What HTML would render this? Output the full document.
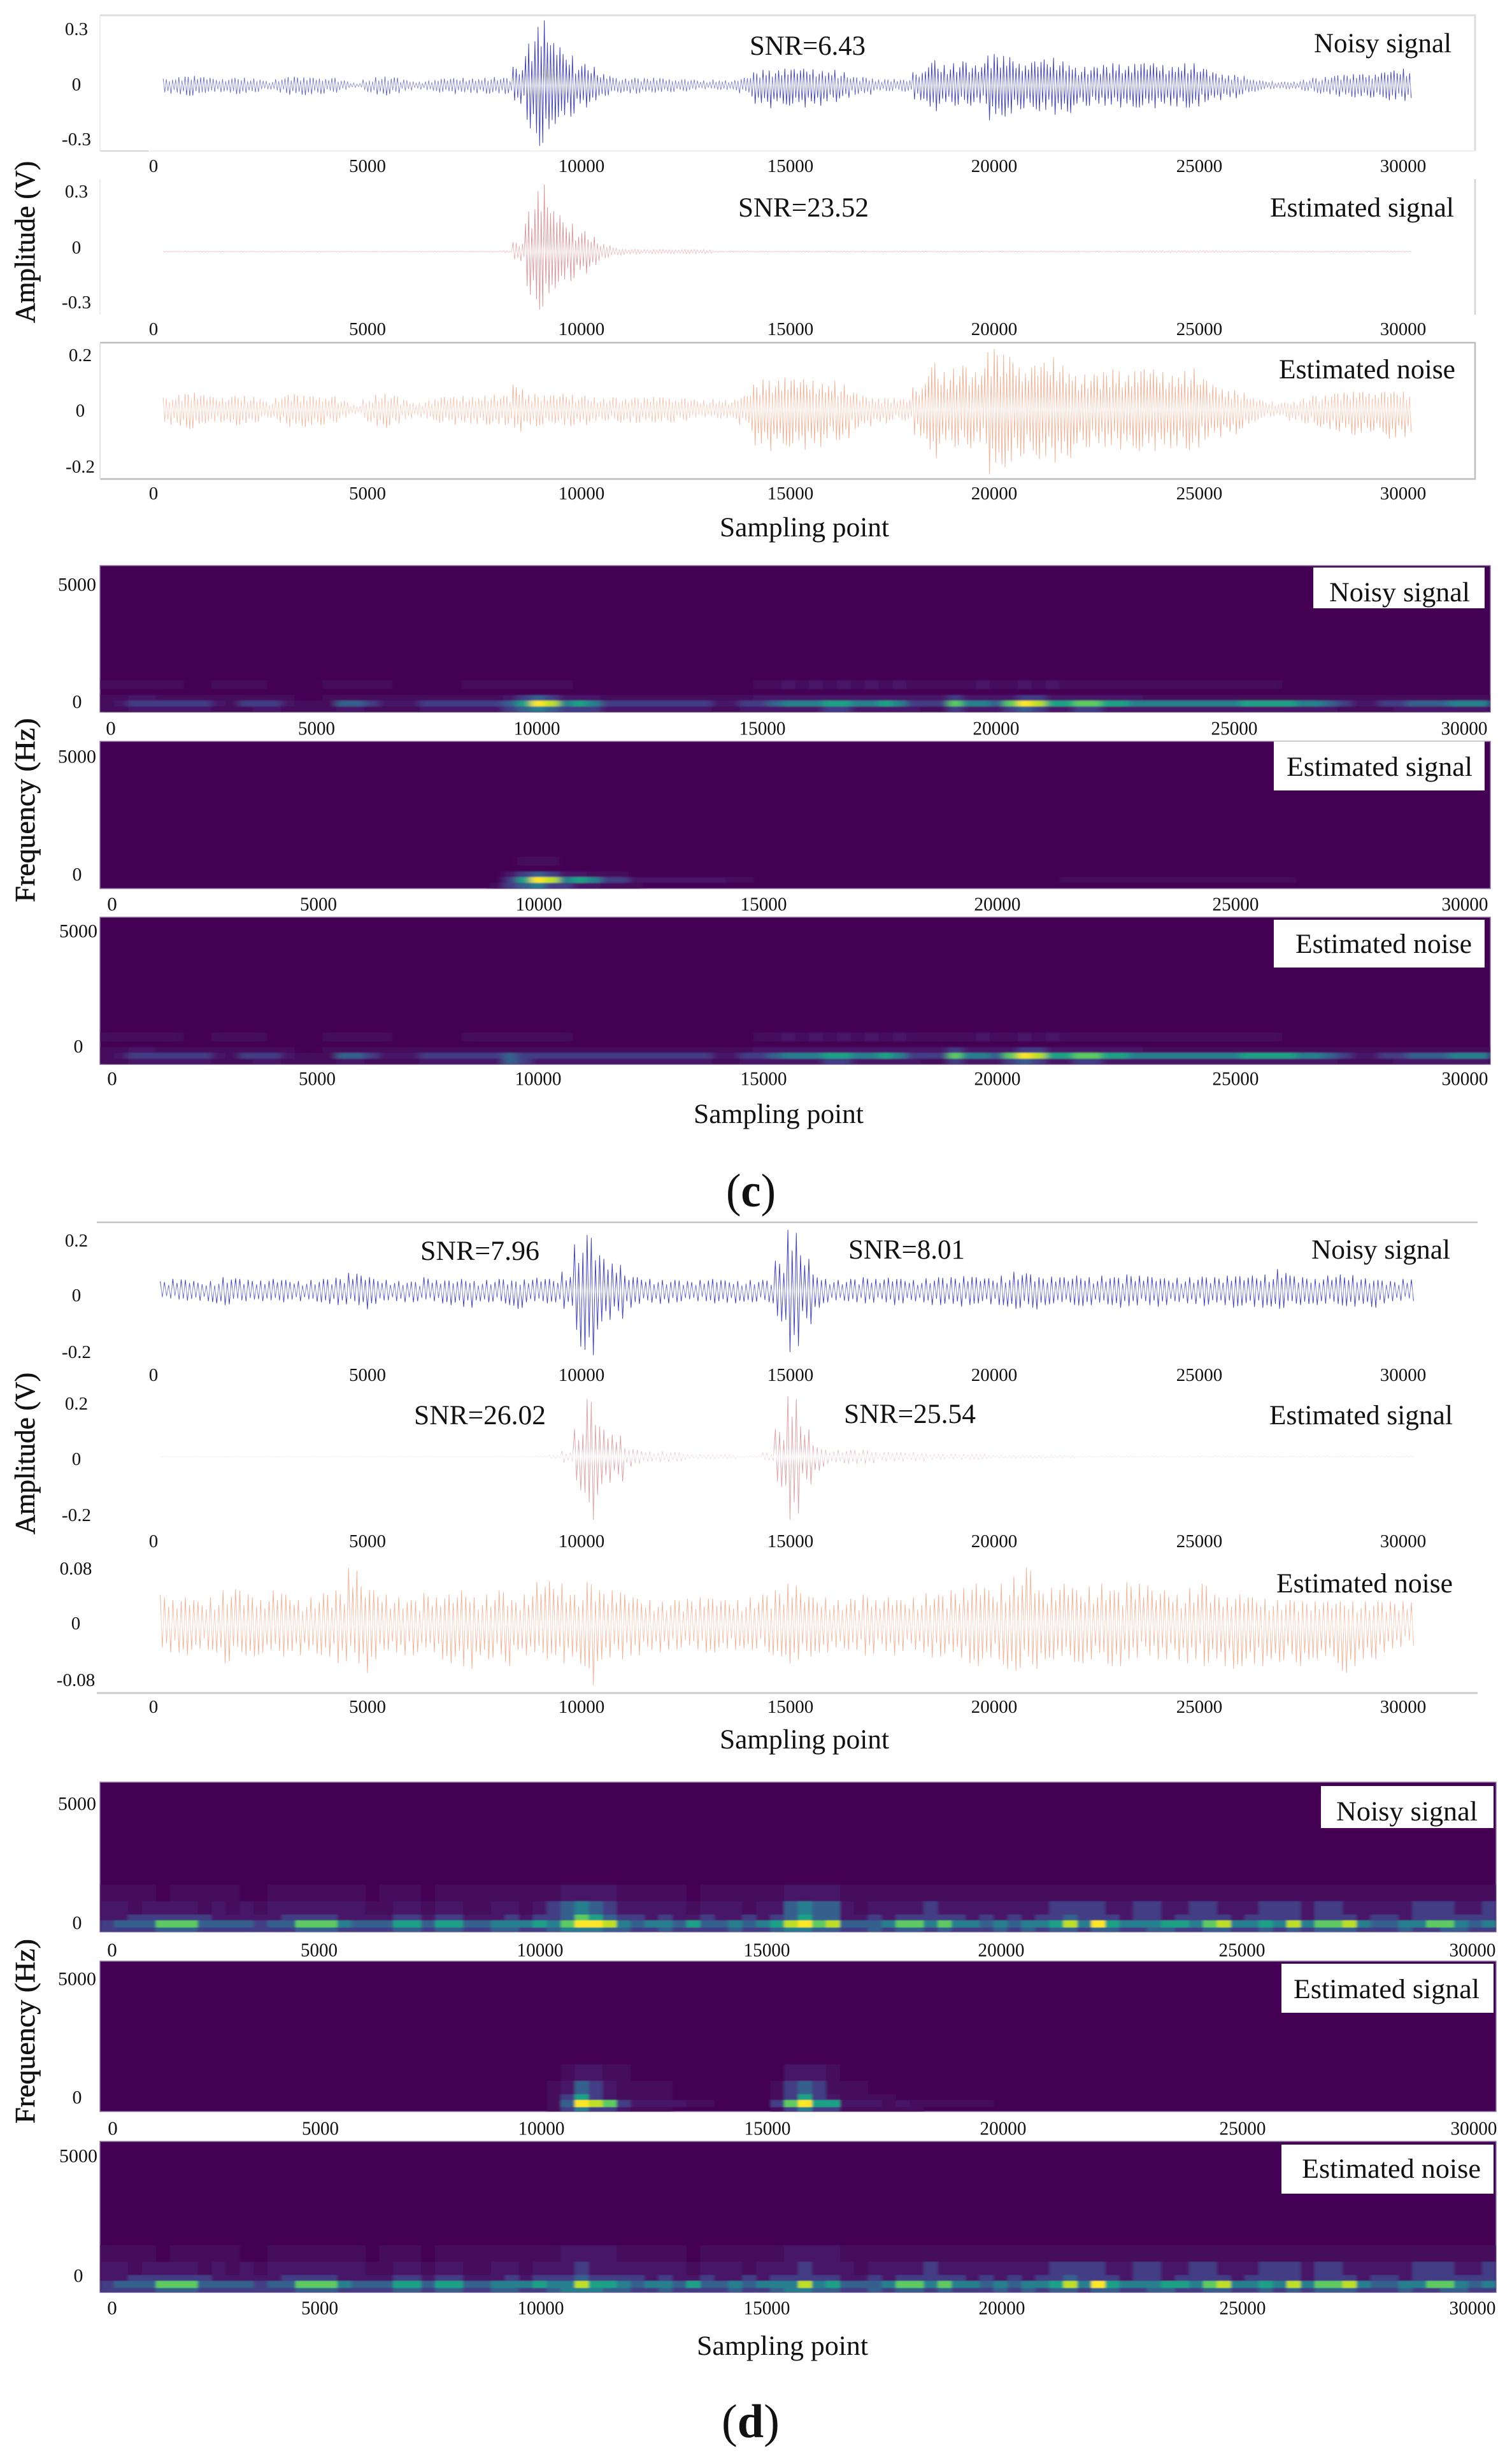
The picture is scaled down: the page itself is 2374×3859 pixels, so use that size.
<!DOCTYPE html>
<html lang="en">
<head>
<meta charset="utf-8">
<title>Noisy and denoised seismic signals with spectrograms</title>
<style>
html,body{margin:0;padding:0;background:#fff;}
svg{display:block;}
text{font-family:"Liberation Serif",serif;fill:#111;}
</style>
</head>
<body>
<svg id="chart" xmlns="http://www.w3.org/2000/svg" width="2374" height="3859" viewBox="0 0 2374 3859">
<defs id="defs">
<filter id="blurC" x="-2%" y="-5%" width="104%" height="110%"><feGaussianBlur stdDeviation="6 1"/></filter>
<filter id="blurD" x="-2%" y="-5%" width="104%" height="110%"><feGaussianBlur stdDeviation="2 0.8"/></filter>
</defs>
<rect width="2374" height="3859" fill="#fff"/>
<g id="layer"></g>

<g>
<text transform="translate(54,380) rotate(-90)" text-anchor="middle" font-size="44" textLength="254" lengthAdjust="spacingAndGlyphs" stroke="#111" stroke-width="0.6">Amplitude (V)</text>
<text transform="translate(54,1272) rotate(-90)" text-anchor="middle" font-size="44" textLength="289" lengthAdjust="spacingAndGlyphs" stroke="#111" stroke-width="0.6">Frequency (Hz)</text>
<text transform="translate(54,2282) rotate(-90)" text-anchor="middle" font-size="44" textLength="254" lengthAdjust="spacingAndGlyphs" stroke="#111" stroke-width="0.6">Amplitude (V)</text>
<text transform="translate(54,3189) rotate(-90)" text-anchor="middle" font-size="44" textLength="290" lengthAdjust="spacingAndGlyphs" stroke="#111" stroke-width="0.6">Frequency (Hz)</text>

<text x="1130" y="842" font-size="43" textLength="266" lengthAdjust="spacingAndGlyphs">Sampling point</text>
<text x="1089" y="1763" font-size="43" textLength="267" lengthAdjust="spacingAndGlyphs">Sampling point</text>
<text x="1130" y="2745" font-size="43" textLength="266" lengthAdjust="spacingAndGlyphs">Sampling point</text>
<text x="1094" y="3697" font-size="43" textLength="269" lengthAdjust="spacingAndGlyphs">Sampling point</text>

<text x="1140" y="1894" font-size="74" textLength="78" lengthAdjust="spacingAndGlyphs">(<tspan font-weight="bold">c</tspan>)</text>
<text x="1133" y="3826" font-size="74" textLength="91" lengthAdjust="spacingAndGlyphs">(<tspan font-weight="bold">d</tspan>)</text>

<text x="1177" y="86" font-size="43" textLength="182" lengthAdjust="spacingAndGlyphs">SNR=6.43</text>
<text x="1159" y="340" font-size="43" textLength="205" lengthAdjust="spacingAndGlyphs">SNR=23.52</text>
<text x="2063" y="82" font-size="43" textLength="216" lengthAdjust="spacingAndGlyphs">Noisy signal</text>
<text x="1994" y="340" font-size="43" textLength="289" lengthAdjust="spacingAndGlyphs">Estimated signal</text>
<text x="2008" y="594" font-size="43" textLength="277" lengthAdjust="spacingAndGlyphs">Estimated noise</text>

<text x="660" y="1978" font-size="43" textLength="187" lengthAdjust="spacingAndGlyphs">SNR=7.96</text>
<text x="1332" y="1976" font-size="43" textLength="183" lengthAdjust="spacingAndGlyphs">SNR=8.01</text>
<text x="650" y="2236" font-size="43" textLength="207" lengthAdjust="spacingAndGlyphs">SNR=26.02</text>
<text x="1325" y="2234" font-size="43" textLength="207" lengthAdjust="spacingAndGlyphs">SNR=25.54</text>
<text x="2059" y="1976" font-size="43" textLength="218" lengthAdjust="spacingAndGlyphs">Noisy signal</text>
<text x="1993" y="2236" font-size="43" textLength="288" lengthAdjust="spacingAndGlyphs">Estimated signal</text>
<text x="2004" y="2500" font-size="43" textLength="277" lengthAdjust="spacingAndGlyphs">Estimated noise</text>
</g>

<g>
<rect x="2062" y="891" width="269" height="64" fill="#fff"/>
<text x="2087" y="944" font-size="43" textLength="221" lengthAdjust="spacingAndGlyphs">Noisy signal</text>
<rect x="2000" y="1164" width="331" height="77" fill="#fff"/>
<text x="2020" y="1218" font-size="43" textLength="292" lengthAdjust="spacingAndGlyphs">Estimated signal</text>
<rect x="2000" y="1444" width="331" height="75" fill="#fff"/>
<text x="2034" y="1496" font-size="43" textLength="277" lengthAdjust="spacingAndGlyphs">Estimated noise</text>
<rect x="2074" y="2804" width="271" height="66" fill="#fff"/>
<text x="2098" y="2858" font-size="43" textLength="222" lengthAdjust="spacingAndGlyphs">Noisy signal</text>
<rect x="2012" y="3083" width="333" height="77" fill="#fff"/>
<text x="2031" y="3137" font-size="43" textLength="292" lengthAdjust="spacingAndGlyphs">Estimated signal</text>
<rect x="2012" y="3367" width="333" height="77" fill="#fff"/>
<text x="2044" y="3419" font-size="43" textLength="281" lengthAdjust="spacingAndGlyphs">Estimated noise</text>
</g>

<g fill="none">
<path d="M157 24H2316V237" stroke="#dcdcdc" stroke-width="3"/>
<path d="M157 24V237" stroke="#eeeeee" stroke-width="2"/>
<path d="M157 237H2316" stroke="#f0f0f0" stroke-width="2"/>
<path d="M157 237H233" stroke="#d4d4d4" stroke-width="2"/>
<path d="M2316 281V494" stroke="#d4d4d4" stroke-width="2.5"/>
<path d="M157 281V494" stroke="#eeeeee" stroke-width="2"/>
<path d="M157 538H2316V752H157" stroke="#bdbdbd" stroke-width="2.5"/>
<path d="M157 538V752" stroke="#e2e2e2" stroke-width="2"/>
<path d="M152 1919H2320" stroke="#c4c4c4" stroke-width="2.5"/>
<path d="M152 2658H2320" stroke="#cccccc" stroke-width="3"/>
</g>

<script>
/* ---------- waveform data: envelope peaks per 300-sample bin, in millivolts ---------- */
const xTickLabels = ['0','5000','10000','15000','20000','25000','30000'];
const cAmpTicks = ['0.3','0','-0.3'];
const cNoiseTicks = ['0.2','0','-0.2'];
const dAmpTicks = ['0.2','0','-0.2'];
const dNoiseTicks = ['0.08','0','-0.08'];
const freqTicks = ['5000','0'];

const cNoisyUp = [36,46,50,44,34,40,40,36,24,36,46,42,40,40,26,14,30,46,42,30,20,28,36,38,40,40,44,40,100,240,354,230,170,116,100,60,40,40,38,40,36,32,30,26,30,28,40,70,84,90,88,90,86,84,70,44,44,32,34,30,70,136,110,120,130,120,170,160,130,130,140,150,130,100,100,110,120,116,120,120,110,120,120,90,70,56,50,30,24,20,20,30,40,50,56,60,60,70,80,90];
const cNoisyLow = [44,52,56,40,36,46,44,36,22,40,50,52,46,38,24,12,36,54,46,28,22,30,38,46,40,44,44,46,100,260,330,210,170,120,90,56,40,44,40,38,36,32,24,20,24,26,42,100,124,104,110,120,110,90,70,50,50,30,30,34,80,140,100,110,110,100,190,170,130,130,140,160,150,110,110,110,120,120,120,124,110,120,120,90,80,70,50,34,20,20,20,30,44,50,60,64,66,70,80,84];
const cSignalUp = [2,2,2,2,2,2,2,2,2,2,2,2,2,2,2,2,2,2,2,2,2,2,2,2,2,2,2,6,50,230,366,220,160,110,80,40,20,14,12,12,12,12,12,12,4,4,4,3,3,3,3,3,3,3,3,3,3,3,3,3,3,3,3,3,3,3,3,3,3,3,3,3,3,3,3,3,3,4,5,6,6,6,6,6,6,4,3,3,3,3,3,3,3,3,3,3,3,3,3,3];
const cSignalLow = [2,2,2,2,2,2,2,2,2,2,2,2,2,2,2,2,2,2,2,2,2,2,2,2,2,2,2,6,50,260,316,200,160,120,80,34,20,14,12,12,12,12,12,12,4,4,4,3,3,3,3,3,3,3,3,3,3,3,3,3,3,3,3,3,3,3,3,3,3,3,3,3,3,3,3,3,3,4,5,6,6,6,6,6,6,4,3,3,3,3,3,3,3,3,3,3,3,3,3,3];
const cNoiseUp = [44,56,60,52,44,50,50,46,30,46,56,50,48,48,32,18,38,56,50,36,24,36,46,46,50,50,54,50,90,56,50,52,56,50,44,40,44,44,42,46,44,40,36,34,38,36,50,90,110,116,110,110,104,104,90,60,50,40,42,38,80,170,136,150,160,150,220,200,170,160,170,190,160,128,128,136,146,140,146,146,136,140,150,110,90,70,60,40,30,26,28,40,50,56,60,64,64,64,64,64];
const cNoiseLow = [54,64,70,50,46,56,54,46,30,50,62,62,56,46,30,16,44,66,56,34,28,38,48,56,50,54,54,56,80,60,56,50,60,56,44,40,46,48,46,46,46,40,30,28,32,34,54,130,150,130,136,146,136,110,110,70,60,50,38,40,96,176,124,136,140,124,236,210,170,164,180,192,176,136,136,136,146,140,150,150,140,140,146,110,100,90,70,44,26,26,40,50,64,74,80,92,80,90,106,100];

const dNoisyUp = [36,44,40,30,36,50,46,40,38,44,40,36,40,44,48,66,56,44,40,36,34,50,40,38,44,36,40,44,38,42,48,44,70,170,204,130,100,56,50,44,40,40,36,40,44,38,36,40,40,110,223,130,60,44,40,44,50,44,48,44,40,46,50,50,54,50,46,56,70,64,50,52,50,56,50,56,50,60,56,50,46,48,50,52,50,56,54,56,60,80,56,50,44,56,60,58,46,40,36,44];
const dNoisyLow = [26,30,34,36,44,50,36,30,36,40,30,36,40,46,50,50,66,46,36,40,40,36,44,50,60,36,40,50,64,40,44,40,64,213,233,110,100,60,46,46,44,40,36,36,44,44,38,40,44,110,222,120,60,40,36,40,44,40,50,44,40,50,50,56,50,44,50,56,64,66,50,44,50,54,50,50,60,54,50,56,50,44,46,54,50,60,52,60,56,64,50,46,50,46,54,56,60,44,36,36];
const dSignalUp = [1,1,1,1,1,1,1,1,1,1,1,1,1,1,1,1,1,1,1,1,1,1,1,1,1,1,1,1,1,1,2,6,20,100,210,110,80,30,24,18,18,16,8,8,8,8,3,3,14,100,220,110,40,24,24,24,24,16,16,16,16,10,10,10,10,10,5,5,5,5,5,5,5,2,2,2,2,2,2,2,2,2,2,2,2,2,2,2,2,2,2,2,2,2,2,2,2,2,2,2];
const dSignalLow = [1,1,1,1,1,1,1,1,1,1,1,1,1,1,1,1,1,1,1,1,1,1,1,1,1,1,1,1,1,1,2,6,20,130,230,100,90,35,24,18,18,16,8,8,8,8,3,3,14,110,230,100,50,24,24,24,24,16,16,16,16,10,10,10,10,10,5,5,5,5,5,5,5,2,2,2,2,2,2,2,2,2,2,2,2,2,2,2,2,2,2,2,2,2,2,2,2,2,2,2];
const dNoiseUp = [44,36,40,34,40,50,52,44,36,50,44,36,40,46,50,83,56,50,44,40,36,46,40,44,50,40,44,50,36,44,62,64,60,44,62,50,50,44,38,36,34,36,38,40,38,36,36,40,44,50,60,46,40,40,36,38,44,36,40,36,40,46,44,50,54,60,50,60,70,83,50,54,60,50,56,60,50,62,60,50,50,44,54,60,44,40,44,40,38,36,36,34,34,34,34,34,34,34,34,34];
const dNoiseLow = [40,40,44,36,40,56,44,46,40,46,38,44,44,46,56,56,70,50,40,44,44,40,50,56,64,44,50,60,36,44,50,44,56,60,88,50,50,44,44,40,36,36,36,40,40,36,34,36,44,46,56,46,40,40,36,36,44,38,44,38,40,48,46,48,56,60,50,64,66,64,50,50,54,56,50,60,60,50,44,50,50,56,50,60,60,64,60,60,50,54,60,50,50,56,70,60,50,40,34,30];

/* ---------- spectrogram data: colour-level rows (0 to 9), bottom row first ---------- */
const cNoisyUnder = [1,1,2,2,2,2,2,2,1,1,1,2,2,1,1,1,1,2,2,1,1,1,1,2,2,2,2,2,2,3,4,5,4,3,3,3,2,2,2,2,2,2,2,2,1,1,2,2,2,2,2,2,3,3,2,2,2,2,2,1,1,3,2,2,2,3,4,3,2,2,3,3,2,2,2,2,2,2,2,2,2,2,2,2,2,2,2,2,2,1,1,1,1,2,2,2,2,2,2,2];
const cNoisyBand = [1,2,3,3,3,3,3,3,2,1,3,3,3,2,1,1,1,4,4,3,2,2,2,3,3,3,3,3,3,4,6,9,8,5,6,5,3,3,3,3,3,3,3,3,2,2,3,3,4,5,5,5,6,6,5,5,6,5,3,3,3,7,5,5,4,7,9,8,6,6,7,7,6,6,5,5,5,5,5,5,5,5,6,6,6,6,5,5,4,3,2,2,3,3,4,4,4,5,5,5];
const cNoisyOver = [1,1,2,2,1,1,1,1,1,1,1,1,1,1,0,0,1,1,1,1,1,1,1,1,1,1,1,1,1,2,3,4,3,2,2,2,1,1,1,1,1,1,1,1,1,1,1,2,2,2,2,2,2,2,2,2,2,2,2,2,2,3,2,2,2,2,3,3,2,2,2,2,2,2,2,1,1,1,1,1,1,1,1,1,1,1,1,1,1,1,1,1,1,1,1,1,1,1,1,1];
const cNoisyHaze = [1,1,1,1,1,1,0,0,1,1,1,1,0,0,0,0,1,1,1,1,1,0,0,0,0,0,1,1,1,1,1,1,1,1,0,0,0,0,0,0,0,0,0,0,0,0,0,1,1,2,1,2,1,2,1,2,1,2,1,1,1,1,1,2,1,1,2,1,2,1,1,1,1,1,1,1,1,1,1,1,1,1,1,1,1,0,0,0,0,0,0,0,0,0,0,0,0,0,0,0];

const cSignalUnder = [0,0,0,0,0,0,0,0,0,0,0,0,0,0,0,0,0,0,0,0,0,0,0,0,0,0,0,0,1,3,4,5,3,3,2,2,1,1,1];
const cSignalBand = [0,0,0,0,0,0,0,0,0,0,0,0,0,0,0,0,0,0,0,0,0,0,0,0,0,0,0,0,0,3,6,9,8,5,6,5,3,3,2,2,2,2,2,2,2,1,1,0,0,0,0,0,0,0,0,0,0,0,0,0,0,0,0,0,0,0,0,0,0,1,1,1,1,1,1,1,1,1,1,1,1,1,1,1,1,1];
const cSignalOver = [0,0,0,0,0,0,0,0,0,0,0,0,0,0,0,0,0,0,0,0,0,0,0,0,0,0,0,0,0,2,3,4,3,2,2,1,1,1];
const cSignalHaze = [0,0,0,0,0,0,0,0,0,0,0,0,0,0,0,0,0,0,0,0,0,0,0,0,0,0,0,0,0,0,1,1,1];

const cNoiseUnder = [1,1,2,2,2,2,2,2,1,1,1,2,2,1,1,1,1,2,2,1,1,1,1,2,2,2,2,2,2,4,3,2,2,2,2,2,2,2,2,2,2,2,2,2,1,1,2,2,2,2,2,2,3,3,2,2,2,2,2,1,1,3,2,2,2,3,4,3,2,2,3,3,2,2,2,2,2,2,2,2,2,2,2,2,2,2,2,2,2,1,1,1,1,2,2,2,2,2,2,2];
const cNoiseBand = [1,2,3,3,3,3,3,3,2,1,3,3,3,2,1,1,1,4,4,3,2,2,2,3,3,3,3,3,3,4,3,3,3,3,3,3,3,3,3,3,3,3,3,3,2,2,3,3,4,5,5,5,6,6,5,5,6,5,3,3,3,7,5,5,4,7,9,8,6,6,7,7,6,6,5,5,5,5,5,5,5,5,6,6,6,6,5,5,4,3,2,2,3,3,4,4,4,5,5,5];
const cNoiseOver = [1,1,2,2,1,1,1,1,1,1,1,1,1,1,0,0,1,1,1,1,1,1,1,1,1,1,1,1,1,1,1,1,1,1,1,1,1,1,1,1,1,1,1,1,1,1,1,2,2,2,2,2,2,2,2,2,2,2,2,2,2,3,2,2,2,2,3,3,2,2,2,2,2,2,2,1,1,1,1,1,1,1,1,1,1,1,1,1,1,1,1,1,1,1,1,1,1,1,1,1];

const dNoisyUnder = [3,3,3,3,4,4,4,3,3,3,3,3,3,3,4,4,4,3,3,3,3,4,4,3,4,4,3,3,4,4,3,3,4,5,5,5,4,4,3,3,4,3,3,3,3,4,3,3,4,5,5,4,4,3,3,4,3,4,4,3,4,3,3,3,4,3,4,3,4,4,3,4,4,3,3,4,4,3,3,4,4,3,3,4,3,4,3,4,4,4,3,3,3,4,3,3,4,4,3,3];
const dNoisyBand = [3,4,4,4,7,7,7,4,4,4,4,3,4,4,7,7,7,5,4,4,4,6,6,4,6,6,4,4,5,5,5,6,5,7,9,9,8,5,4,5,5,4,6,4,4,5,4,5,6,8,9,7,8,4,4,4,5,7,7,5,7,5,5,4,5,4,5,5,6,8,5,9,6,5,5,5,6,6,5,7,8,5,5,6,5,8,5,7,7,8,5,4,4,5,5,7,7,5,4,5];
const dNoisyOver = [2,2,3,3,3,3,3,3,2,2,2,2,2,3,3,3,3,2,2,2,2,3,3,2,3,3,2,2,2,3,2,3,3,4,7,6,4,3,3,2,3,2,2,3,2,2,3,2,3,4,6,4,4,2,2,3,2,3,3,3,3,3,2,3,2,3,2,3,3,4,3,3,3,2,3,3,2,3,3,3,3,2,3,3,3,3,2,3,3,3,2,3,3,2,3,3,3,3,3,3];
const dNoisyMid = [2,2,1,2,2,2,2,1,2,1,2,1,2,2,2,2,2,2,2,1,1,2,2,1,2,2,1,1,2,2,1,2,3,4,5,4,3,2,2,2,2,2,1,2,2,2,1,2,2,4,5,4,4,2,1,2,2,2,2,3,2,2,2,2,2,2,2,2,3,3,3,3,2,2,3,3,2,2,3,3,2,2,2,3,3,3,2,3,3,2,2,2,2,2,3,3,3,2,2,3];
const dNoisyTop = [1,1,1,1,0,1,1,1,1,1,0,0,1,1,1,1,1,1,1,0,1,1,1,0,1,1,1,1,1,1,1,1,1,2,2,2,2,1,1,1,1,1,0,1,1,1,1,1,1,2,2,2,2,1,1,1,1,1,1,1,1,1,1,1,1,1,1,1,1,1,1,1,1,1,1,1,1,1,1,1,1,1,1,1,1,1,1,1,1,1,1,1,1,1,1,1,1,1,1,1];

const dSignalUnder = [0,0,0,0,0,0,0,0,0,0,0,0,0,0,0,0,0,0,0,0,0,0,0,0,0,0,0,0,0,0,0,0,1,3,5,3,3,2,1,1,1,0,0,0,0,0,0,0,1,3,5,3,3,1,1,1,1,1,1];
const dSignalBand = [0,0,0,0,0,0,0,0,0,0,0,0,0,0,0,0,0,0,0,0,0,0,0,0,0,0,0,0,0,0,0,0,1,4,9,8,7,3,2,2,2,2,1,1,0,0,0,0,3,7,9,6,6,2,2,2,1,2,1,1,1,1,1,1];
const dSignalOver = [0,0,0,0,0,0,0,0,0,0,0,0,0,0,0,0,0,0,0,0,0,0,0,0,0,0,0,0,0,0,0,0,1,3,6,3,2,1,1,1,1,0,0,0,0,0,0,0,1,3,6,3,2,1,1,1,1];
const dSignalMid = [0,0,0,0,0,0,0,0,0,0,0,0,0,0,0,0,0,0,0,0,0,0,0,0,0,0,0,0,0,0,0,0,1,2,4,3,2,1,1,1,1,0,0,0,0,0,0,0,1,3,4,3,1,1,1];
const dSignalTop = [0,0,0,0,0,0,0,0,0,0,0,0,0,0,0,0,0,0,0,0,0,0,0,0,0,0,0,0,0,0,0,0,0,1,2,2,1,1,0,0,0,0,0,0,0,0,0,0,0,2,2,2,1];

const dNoiseBand = [3,4,4,4,7,7,7,4,4,4,4,3,4,4,7,7,7,5,4,4,4,6,6,4,6,6,4,4,5,5,5,6,5,5,8,6,6,5,4,5,5,4,6,4,4,5,4,5,5,5,8,5,6,4,4,4,5,7,7,5,7,5,5,4,5,4,5,5,6,8,5,9,6,5,5,5,6,6,5,7,8,5,5,6,5,8,5,7,7,8,5,4,4,5,5,7,7,5,4,5];
const dNoiseOver = [2,2,3,3,3,3,3,3,2,2,2,2,2,3,3,3,3,2,2,2,2,3,3,2,3,3,2,2,2,3,2,3,3,3,4,3,3,3,3,2,3,2,2,3,2,2,3,2,3,3,3,3,3,2,2,3,2,3,3,3,3,3,2,3,2,3,2,3,3,4,3,3,3,2,3,3,2,3,3,3,3,2,3,3,3,3,2,3,3,3,2,3,3,2,3,3,3,3,3,3];
const dNoiseMid = [2,2,1,2,2,2,2,1,2,1,2,1,2,2,2,2,2,2,2,1,1,2,2,1,2,2,1,1,2,2,1,2,2,2,3,2,2,2,2,2,2,2,1,2,2,2,1,2,2,2,3,2,2,2,1,2,2,2,2,3,2,2,2,2,2,2,2,2,3,3,3,3,2,2,3,3,2,2,3,3,2,2,2,3,3,3,2,3,3,2,2,2,2,2,3,3,3,2,2,3];

/* ---------- drawing ---------- */
const NS = 'http://www.w3.org/2000/svg';
const layer = document.getElementById('layer');
const defs = document.getElementById('defs');
const viridis = ['#440154','#450a5b','#461868','#433e85','#35608d','#277f8e','#1fa187','#5ec962','#bddf26','#fde725'];

function make(tag, attrs, parent) {
  const el = document.createElementNS(NS, tag);
  for (const k in attrs) el.setAttribute(k, attrs[k]);
  parent.appendChild(el);
  return el;
}

function drawXTicks(group, tickX, y, fontSize, squeeze) {
  xTickLabels.forEach(function (label, i) {
    const attrs = {x: tickX[i], y: y, 'text-anchor': 'middle', 'dominant-baseline': 'central', 'font-size': fontSize};
    if (squeeze && label.length > 1) {
      attrs.textLength = label.length === 5 ? 73 : 58;
      attrs.lengthAdjust = 'spacingAndGlyphs';
    }
    const t = make('text', attrs, group);
    
    
    t.textContent = label;
  });
}

function drawYTicks(group, labels, tickY, x, fontSize) {
  labels.forEach(function (label, i) {
    const t = make('text', {x: x, y: tickY[i], 'text-anchor': 'middle', 'dominant-baseline': 'central', 'font-size': fontSize}, group);
    
    
    t.textContent = label;
  });
}

/* Sub-bin stroke texture: each bin reaches its envelope once, other cycles swing to a share of it */
const SWING = [0.72, 0.9, 0.6, 0.82, 0.66, 0.95, 0.55];

let gradCount = 0;
function traceGradient(zero, tip, pale, fade) {
  const id = 'trace' + (gradCount++);
  const span = 140;
  const grad = make('linearGradient', {id: id, gradientUnits: 'userSpaceOnUse', x1: 0, x2: 0, y1: zero - span, y2: zero + span}, defs);
  const stops = [[0, tip], [(span - fade) / (2 * span), tip], [0.5, pale], [(span + fade) / (2 * span), tip], [1, tip]];
  stops.forEach(function (s) {
    make('stop', {offset: s[0], 'stop-color': s[1]}, grad);
  });
  return 'url(#' + id + ')';
}

function drawWave(cfg) {
  const g = make('g', {}, layer);
  
  
  const n = cfg.up.length;
  const binW = (cfg.x1 - cfg.x0) / n;
  const xScale = function (i) { return cfg.x0 + i * binW; };
  const yScale = function (mv) { return cfg.zero - mv * cfg.k; };
  const cycles = cfg.cycles;
  const line = [];
  let c = 0;
  for (let i = 0; i < n; i++) {
    for (let j = 0; j < cycles; j++) {
      const a = j === (i * 3) % cycles ? 1 : SWING[c % 7];
      const b = j === (i * 5 + 2) % cycles ? 1 : SWING[(c + 3) % 7];
      c++;
      line.push(xScale(i + (j + 0.25) / cycles).toFixed(1) + ',' + yScale(cfg.up[i] * a).toFixed(1));
      line.push(xScale(i + (j + 0.75) / cycles).toFixed(1) + ',' + yScale(-cfg.low[i] * b).toFixed(1));
    }
  }
  const trace = make('polyline', {points: line.join(' '), fill: 'none', stroke: traceGradient(cfg.zero, cfg.color, cfg.pale, cfg.fade), 'stroke-width': cfg.width, 'stroke-linejoin': 'round'}, g);
  
  
  drawXTicks(g, cfg.tickX, cfg.labelY, 29, false);
  drawYTicks(g, cfg.yLabels, cfg.tickY, cfg.yLabelX, 29);
}

let clipCount = 0;
function drawHeat(cfg) {
  const g = make('g', {}, layer);
  
  
  const w = cfg.x1 - cfg.x0;
  const h = cfg.bottom - cfg.top;
  const bg = make('rect', {x: cfg.x0, y: cfg.top, width: w, height: h, fill: viridis[0], stroke: '#8d75a3', 'stroke-width': 1.5}, g);
  
  
  const id = 'clip' + (clipCount++);
  const clip = make('clipPath', {id: id}, g);
  make('rect', {x: cfg.x0, y: cfg.top, width: w, height: h}, clip);
  const outer = make('g', {'clip-path': 'url(#' + id + ')'}, g);
  const cells = make('g', {filter: 'url(#' + cfg.filter + ')'}, outer);
  const cols = 100;
  const cw = w / cols;
  const xCell = function (i) { return cfg.x0 + i * cw; };
  cfg.rows.forEach(function (row, r) {
    row.forEach(function (level, i) {
      if (level <= 0) return;
      const rect = make('rect', {
        x: xCell(i).toFixed(1),
        y: (cfg.bottom - cfg.offs[r] - cfg.hts[r]).toFixed(1),
        width: (cw + 0.5).toFixed(1),
        height: cfg.hts[r],
        fill: viridis[Math.min(9, Math.round(level))]
      }, cells);
      
      
    });
  });
  drawXTicks(g, cfg.tickX, cfg.labelY, 31, true);
  drawYTicks(g, freqTicks, cfg.tickY, cfg.yLabelX, 30);
}

const waveTickX = [241, 577, 913, 1241, 1561, 1883, 2203];

drawWave({up: cNoisyUp, low: cNoisyLow, x0: 255, x1: 2217, zero: 134, k: 0.287, cycles: 4, color: '#3f42b0', pale: '#a4a6d6', fade: 16, width: 1, tickX: waveTickX, labelY: 261, yLabels: cAmpTicks, tickY: [46, 133, 219], yLabelX: 120});
drawWave({up: cSignalUp, low: cSignalLow, x0: 255, x1: 2217, zero: 395, k: 0.287, cycles: 4, color: '#d8989c', pale: '#efcfd0', fade: 16, width: 1, tickX: waveTickX, labelY: 517, yLabels: cAmpTicks, tickY: [301, 389, 475], yLabelX: 120});
drawWave({up: cNoiseUp, low: cNoiseLow, x0: 255, x1: 2217, zero: 643, k: 0.43, cycles: 4, color: '#efb398', pale: '#f8dfd3', fade: 24, width: 1, tickX: waveTickX, labelY: 775, yLabels: cNoiseTicks, tickY: [558, 645, 733], yLabelX: 126});

drawWave({up: dNoisyUp, low: dNoisyLow, x0: 250, x1: 2221, zero: 2027, k: 0.43, cycles: 3, color: '#3f42b5', pale: '#9396d4', fade: 14, width: 1, tickX: waveTickX, labelY: 2159, yLabels: dAmpTicks, tickY: [1948, 2034, 2123], yLabelX: 120});
drawWave({up: dSignalUp, low: dSignalLow, x0: 250, x1: 2221, zero: 2287, k: 0.43, cycles: 3, color: '#dba4a8', pale: '#f7eded', fade: 14, width: 1, tickX: waveTickX, labelY: 2420, yLabels: dAmpTicks, tickY: [2204, 2291, 2379], yLabelX: 120});
drawWave({up: dNoiseUp, low: dNoiseLow, x0: 250, x1: 2221, zero: 2551, k: 1.075, cycles: 3, color: '#f0b59a', pale: '#f8dccf', fade: 26, width: 1, tickX: waveTickX, labelY: 2680, yLabels: dNoiseTicks, tickY: [2463, 2549, 2638], yLabelX: 119});

const cOffs = [0, 9, 18, 36];
const cHts = [9, 9, 9, 14];
const dOffs = [0, 7, 18, 27, 48];
const dHts = [7, 11, 9, 21, 26];

drawHeat({rows: [cNoisyUnder, cNoisyBand, cNoisyOver, cNoisyHaze], offs: cOffs, hts: cHts, filter: 'blurC', x0: 157, x1: 2340, top: 888, bottom: 1118, tickX: [174, 497, 843, 1197, 1564, 1938, 2299], labelY: 1143, tickY: [918, 1102], yLabelX: 121});
drawHeat({rows: [cSignalUnder, cSignalBand, cSignalOver, cSignalHaze], offs: cOffs, hts: cHts, filter: 'blurC', x0: 157, x1: 2340, top: 1164, bottom: 1395, tickX: [176, 500, 846, 1199, 1566, 1940, 2300], labelY: 1419, tickY: [1188, 1373], yLabelX: 121});
drawHeat({rows: [cNoiseUnder, cNoiseBand, cNoiseOver, cNoisyHaze], offs: cOffs, hts: cHts, filter: 'blurC', x0: 157, x1: 2340, top: 1440, bottom: 1671, tickX: [176, 498, 845, 1199, 1566, 1940, 2300], labelY: 1693, tickY: [1462, 1643], yLabelX: 123});

drawHeat({rows: [dNoisyUnder, dNoisyBand, dNoisyOver, dNoisyMid, dNoisyTop], offs: dOffs, hts: dHts, filter: 'blurD', x0: 157, x1: 2349, top: 2798, bottom: 3033, tickX: [176, 501, 848, 1204, 1572, 1950, 2312], labelY: 3061, tickY: [2832, 3019], yLabelX: 121});
drawHeat({rows: [dSignalUnder, dSignalBand, dSignalOver, dSignalMid, dSignalTop], offs: dOffs, hts: dHts, filter: 'blurD', x0: 157, x1: 2349, top: 3079, bottom: 3315, tickX: [177, 503, 850, 1205, 1575, 1951, 2314], labelY: 3341, tickY: [3107, 3293], yLabelX: 121});
drawHeat({rows: [dNoisyUnder, dNoiseBand, dNoiseOver, dNoiseMid, dNoisyTop], offs: dOffs, hts: dHts, filter: 'blurD', x0: 157, x1: 2349, top: 3362, bottom: 3599, tickX: [176, 502, 849, 1204, 1573, 1951, 2312], labelY: 3623, tickY: [3385, 3573], yLabelX: 123});
</script>
</svg>
</body>
</html>
